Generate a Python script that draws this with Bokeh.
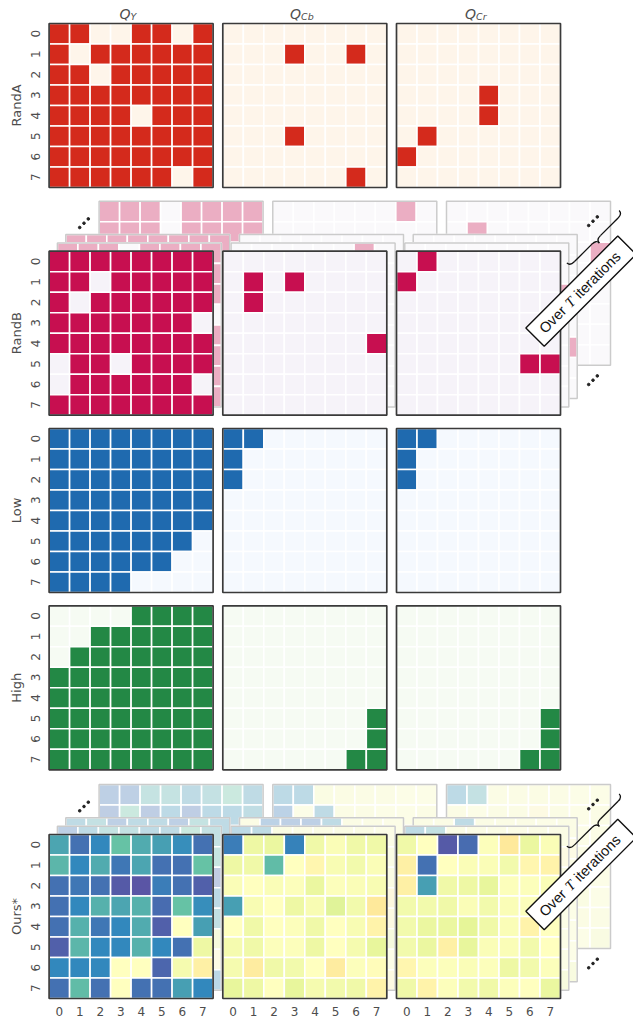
import math
from bokeh.plotting import figure
from bokeh.models import ColumnDataSource, Range1d
from bokeh.core.properties import value
from bokeh.embed import file_html
from bokeh.resources import INLINE

# ---------------- data ----------------
row_names = ["RandA", "RandB", "Low", "High", "Ours*"]
col_main = ["Q", "Q", "Q"]
col_sub = ["Y", "Cb", "Cr"]
tick_labels = ["0", "1", "2", "3", "4", "5", "6", "7"]

randA_Y = ["11001101", "10111111", "11011111", "11111111",
           "11110111", "11111111", "11111111", "11111101"]
randA_Cb = ["00000000", "00010010", "00000000", "00000000",
            "00000000", "00010000", "00000000", "00000010"]
randA_Cr = ["00000000", "00000000", "00000000", "00001000",
            "00001000", "01000000", "10000000", "00000000"]

randB_Y = ["11111111", "11011111", "10111111", "11111110",
           "11111111", "01101111", "01111110", "11111111"]
randB_Cb = ["00000000", "01010000", "01000000", "00000000",
            "00000001", "00000000", "00000000", "00000000"]
randB_Cr = ["01000000", "10000000", "00000000", "00000000",
            "00000000", "00000011", "00000000", "00000000"]

low_Y = ["11111111", "11111111", "11111111", "11111111",
         "11111111", "11111110", "11111100", "11110000"]
low_Cb = ["11000000", "10000000", "10000000", "00000000",
          "00000000", "00000000", "00000000", "00000000"]
low_Cr = ["11000000", "10000000", "10000000", "00000000",
          "00000000", "00000000", "00000000", "00000000"]

high_Y = ["00001111", "00111111", "01111111", "11111111",
          "11111111", "11111111", "11111111", "11111111"]
high_Cb = ["00000000", "00000000", "00000000", "00000000",
           "00000000", "00000001", "00000001", "00000011"]
high_Cr = ["00000000", "00000000", "00000000", "00000000",
           "00000000", "00000001", "00000001", "00000011"]

# Ours*: position on the Spectral scale (0 = purple ... 5 = pale yellow, 6 = light orange)
ours_Y = [[1.5, 0.6, 1.0, 2.0, 1.6, 1.4, 1.1, 0.6],
          [1.8, 1.0, 1.6, 0.7, 1.5, 0.6, 0.6, 2.0],
          [0.6, 0.7, 0.6, 0.2, 0.1, 0.8, 0.6, 0.3],
          [0.6, 1.0, 1.7, 1.5, 1.7, 0.5, 2.0, 1.1],
          [0.6, 1.7, 0.7, 1.0, 1.6, 0.3, 5.0, 1.4],
          [0.3, 1.8, 1.0, 1.0, 1.7, 1.0, 0.6, 4.3],
          [1.0, 1.0, 1.0, 5.0, 5.0, 0.4, 4.6, 5.5],
          [0.6, 1.9, 0.6, 5.0, 0.6, 0.6, 1.4, 1.0]]
ours_Cb = [[0.8, 4.3, 4.2, 0.9, 4.4, 4.8, 4.4, 4.4],
           [4.3, 4.4, 1.9, 5.0, 5.3, 4.7, 4.5, 4.8],
           [4.8, 5.0, 4.8, 4.9, 4.2, 4.9, 4.8, 4.7],
           [1.4, 4.7, 5.0, 4.3, 4.7, 3.9, 4.5, 5.7],
           [5.0, 4.4, 5.0, 4.9, 4.4, 5.0, 4.7, 5.4],
           [4.6, 4.4, 4.9, 4.9, 4.3, 5.0, 4.6, 4.1],
           [4.6, 5.6, 4.4, 4.5, 5.0, 5.6, 4.9, 5.1],
           [4.1, 4.3, 5.0, 4.1, 4.6, 4.5, 4.4, 5.4]]
ours_Cr = [[4.4, 5.0, 0.2, 0.5, 4.9, 5.7, 4.2, 4.8],
           [5.5, 0.6, 5.0, 4.8, 4.8, 4.5, 5.3, 5.4],
           [5.5, 1.4, 4.4, 4.3, 4.1, 4.9, 4.9, 4.8],
           [4.5, 4.5, 4.4, 4.8, 4.5, 4.8, 4.9, 4.9],
           [4.5, 4.2, 4.2, 4.0, 4.4, 4.8, 5.4, 5.0],
           [4.5, 4.2, 5.5, 4.1, 4.8, 4.8, 4.5, 5.0],
           [5.3, 4.9, 4.9, 4.8, 4.9, 4.3, 4.5, 4.9],
           [4.4, 5.4, 4.9, 4.5, 4.4, 4.9, 5.0, 4.2]]

# earlier iterations shown behind RandB (layer 1 = nearest, layer 3 = farthest)
ghostB_Y = [["11101111", "11111111", "11111111", "11111110", "11111111", "11111111", "11111111", "11111111"],
            ["11111111", "11011111", "11111111", "11111111", "11111111", "11111111", "11111111", "11111111"],
            ["11101111", "11101111", "11111111", "11111111", "11111111", "11111111", "11111111", "11111111"]]
ghostB_Cb = [["00000010", "00000000", "00000000", "00000000", "00000000", "00000000", "00000000", "00000000"],
             ["00000000", "00000000", "00000000", "00000000", "00000000", "00000000", "00000000", "00000000"],
             ["00000010", "00000000", "00000000", "00000000", "00000000", "00000000", "00000000", "00000000"]]
ghostB_Cr = [["00000000", "00000000", "00000001", "00000000", "00000000", "00000000", "00000000", "00000000"],
             ["00000000", "00000000", "00000000", "00000000", "00000000", "00000001", "00000000", "00000000"],
             ["00000000", "01000000", "00000001", "00000000", "00000000", "00000000", "00000000", "00000000"]]

# earlier iterations shown behind Ours*
ghostO_Y = [[[0.7, 1.3, 1.7, 1.6, 1.3, 1.3, 2.0, 1.6],
             [1.2, 0.8, 1.5, 1.0, 1.4, 0.7, 0.8, 1.8],
             [0.7, 0.8, 0.6, 0.4, 0.3, 0.9, 0.7, 0.5],
             [0.7, 1.1, 1.6, 1.4, 1.6, 0.6, 1.8, 1.2],
             [0.7, 1.6, 0.8, 1.1, 1.5, 0.4, 4.6, 1.5],
             [0.4, 1.7, 1.1, 1.1, 1.6, 1.1, 0.7, 4.2],
             [1.1, 1.1, 1.1, 4.8, 4.8, 0.5, 4.5, 5.2],
             [0.7, 1.8, 0.7, 4.8, 0.7, 0.7, 1.5, 1.1]],
            [[1.3, 1.6, 0.7, 1.3, 1.3, 0.7, 1.7, 1.3],
             [1.6, 1.1, 1.4, 0.8, 1.4, 0.7, 0.7, 1.9],
             [0.7, 0.8, 0.7, 0.3, 0.3, 0.9, 0.7, 0.4],
             [0.7, 1.1, 1.6, 1.4, 1.6, 0.6, 1.9, 1.2],
             [0.7, 1.6, 0.8, 1.1, 1.5, 0.4, 4.7, 1.5],
             [0.4, 1.7, 1.1, 1.1, 1.6, 1.1, 0.7, 4.2],
             [1.1, 1.1, 1.1, 4.9, 4.9, 0.5, 4.5, 5.3],
             [0.7, 1.8, 0.7, 4.9, 0.7, 0.7, 1.5, 1.1]],
            [[0.7, 0.7, 1.7, 1.7, 1.3, 1.6, 2.0, 1.3],
             [0.6, 2.0, 0.6, 1.2, 0.6, 1.2, 1.2, 1.4],
             [0.8, 0.9, 0.7, 0.4, 0.4, 1.0, 0.8, 0.6],
             [0.8, 1.2, 1.5, 1.3, 1.5, 0.7, 1.7, 1.3],
             [0.8, 1.5, 0.9, 1.2, 1.4, 0.5, 4.4, 1.6],
             [0.5, 1.6, 1.2, 1.2, 1.5, 1.2, 0.8, 4.0],
             [1.2, 1.2, 1.2, 4.6, 4.6, 0.6, 4.3, 5.0],
             [0.8, 1.7, 0.8, 4.6, 0.8, 0.8, 1.6, 1.2]]]
ghostO_Cb = [[[1.2, 1.3, 4.6, 4.8, 4.8, 4.8, 4.8, 4.9],
              [4.4, 4.5, 2.2, 4.9, 5.2, 4.7, 4.6, 4.8],
              [4.8, 4.9, 4.8, 4.9, 4.3, 4.9, 4.8, 4.7],
              [1.6, 4.7, 4.9, 4.4, 4.7, 4.1, 4.6, 5.5],
              [4.9, 4.5, 4.9, 4.9, 4.5, 4.9, 4.7, 5.3],
              [4.6, 4.5, 4.9, 4.9, 4.4, 4.9, 4.6, 4.2],
              [4.6, 5.4, 4.5, 4.6, 4.9, 5.4, 4.9, 5.0],
              [4.2, 4.4, 4.9, 4.2, 4.6, 4.6, 4.5, 5.3]],
             [[4.8, 0.8, 0.7, 0.7, 1.3, 4.8, 4.8, 4.9],
              [4.4, 4.5, 2.4, 4.9, 5.1, 4.7, 4.6, 4.8],
              [4.8, 4.9, 4.8, 4.9, 4.4, 4.9, 4.8, 4.8],
              [1.8, 4.7, 4.9, 4.5, 4.7, 4.2, 4.6, 5.4],
              [4.9, 4.5, 4.9, 4.9, 4.5, 4.9, 4.7, 5.2],
              [4.7, 4.5, 4.9, 4.9, 4.5, 4.9, 4.7, 4.3],
              [4.7, 5.3, 4.5, 4.6, 4.9, 5.3, 4.9, 5.0],
              [4.3, 4.5, 4.9, 4.3, 4.7, 4.6, 4.5, 5.2]],
             [[1.2, 1.2, 4.6, 4.7, 4.8, 4.8, 4.9, 4.9],
              [0.8, 4.9, 1.3, 4.8, 4.8, 4.9, 4.9, 4.8],
              [4.8, 4.9, 4.8, 4.9, 4.5, 4.9, 4.8, 4.8],
              [2.0, 4.7, 4.9, 4.6, 4.7, 4.3, 4.7, 5.3],
              [4.9, 4.6, 4.9, 4.9, 4.6, 4.9, 4.8, 5.1],
              [4.7, 4.6, 4.9, 4.9, 4.6, 4.9, 4.7, 4.4],
              [4.7, 5.2, 4.6, 4.7, 4.9, 5.2, 4.9, 5.0],
              [4.4, 4.6, 4.9, 4.4, 4.7, 4.7, 4.6, 5.1]]]
ghostO_Cr = [[[1.3, 1.6, 4.8, 4.8, 4.8, 4.9, 4.8, 4.8],
              [5.3, 1.0, 4.9, 4.8, 4.8, 4.6, 5.2, 5.3],
              [5.3, 1.8, 4.5, 4.4, 4.3, 4.9, 4.9, 4.8],
              [4.6, 4.6, 4.5, 4.8, 4.6, 4.8, 4.9, 4.9],
              [4.6, 4.3, 4.3, 4.2, 4.5, 4.8, 5.3, 4.9],
              [4.6, 4.3, 5.3, 4.2, 4.8, 4.8, 4.6, 4.9],
              [5.2, 4.9, 4.9, 4.8, 4.9, 4.4, 4.6, 4.9],
              [4.5, 5.3, 4.9, 4.6, 4.5, 4.9, 4.9, 4.3]],
             [[4.8, 4.8, 1.3, 4.8, 4.8, 4.8, 4.9, 4.8],
              [5.2, 1.2, 4.9, 4.8, 4.8, 4.6, 5.1, 5.2],
              [5.2, 2.0, 4.5, 4.5, 4.4, 4.9, 4.9, 4.8],
              [4.6, 4.6, 4.5, 4.8, 4.6, 4.8, 4.9, 4.9],
              [4.6, 4.4, 4.4, 4.3, 4.5, 4.8, 5.2, 4.9],
              [4.6, 4.4, 5.2, 4.3, 4.8, 4.8, 4.6, 4.9],
              [5.1, 4.9, 4.9, 4.8, 4.9, 4.5, 4.6, 4.9],
              [4.6, 5.2, 4.9, 4.6, 4.6, 4.9, 4.9, 4.4]],
             [[1.2, 1.6, 4.8, 4.8, 4.7, 4.8, 4.9, 4.9],
              [4.8, 4.9, 4.8, 4.8, 5.3, 4.8, 4.9, 4.8],
              [5.1, 2.2, 4.6, 4.6, 4.5, 4.9, 4.9, 4.8],
              [4.7, 4.7, 4.6, 4.8, 4.7, 4.8, 4.8, 4.9],
              [4.7, 4.5, 4.5, 4.4, 4.6, 4.8, 4.3, 4.9],
              [4.7, 4.5, 5.1, 4.4, 4.8, 4.8, 4.6, 4.9],
              [5.0, 4.9, 4.9, 4.8, 4.9, 4.5, 4.7, 4.8],
              [4.6, 5.1, 4.9, 4.7, 4.6, 4.9, 4.9, 4.5]]]

# ---------------- style / layout ----------------
on_colors = ["#d42a1c", "#c70f50", "#1f6aaf", "#238845"]
off_colors = ["#fef5ea", "#f6f3f9", "#f5f9fe", "#f6fbf3"]
SPECTRAL = ['#5e4fa2', '#3288bd', '#66c2a5', '#abdda4', '#e6f598', '#ffffbf',
            '#fee08b', '#fdae61', '#f46d43', '#d53e4f', '#9e0142']

W, H = 633, 1023
CELL = 20.5
COL_X0 = [48.6, 222.3, 396.0]             # page px of panel left edges
ROW_Y0 = [23.0, 250.7, 428.0, 605.3, 834.0]  # page px of panel top edges
GHOST_OFF = [8.3, 16.7, 50.0]             # offsets of earlier-iteration layers
GHOST_ALPHA = 0.33


def px(x):
    return x


def py(y):
    return H - y


def hex2rgb(h):
    return tuple(int(h[i:i + 2], 16) for i in (1, 3, 5))


def spectral(v):
    i = min(int(math.floor(v)), len(SPECTRAL) - 2)
    f = v - i
    a, b = hex2rgb(SPECTRAL[i]), hex2rgb(SPECTRAL[i + 1])
    c = [round(a[k] + (b[k] - a[k]) * f) for k in range(3)]
    return "#%02x%02x%02x" % tuple(c)


def binary_colors(rows, ri):
    return [[on_colors[ri] if ch == "1" else off_colors[ri] for ch in r] for r in rows]


def value_colors(mat):
    return [[spectral(v) for v in r] for r in mat]


p = figure(width=W, height=H, x_range=Range1d(0, W), y_range=Range1d(0, H),
           x_axis_type=None, y_axis_type=None, toolbar_location=None,
           output_backend="svg", min_border=0)
p.outline_line_color = None
p.background_fill_color = "white"
p.border_fill_color = "white"


def draw_panel(colors, R, C, off=0.0, ghost=False):
    x0 = COL_X0[C] + off
    y0 = ROW_Y0[R] - off
    xs, ys, cs = [], [], []
    for r in range(8):
        for c in range(8):
            xs.append(px(x0 + (c + 0.5) * CELL))
            ys.append(py(y0 + (r + 0.5) * CELL))
            cs.append(colors[r][c])
    cx, cy = px(x0 + 4 * CELL), py(y0 + 4 * CELL)
    if ghost:
        p.rect([cx], [cy], width=8 * CELL, height=8 * CELL, fill_color="#fdfdfd",
               line_color=None)
    src = ColumnDataSource(dict(x=xs, y=ys, color=cs))
    p.rect("x", "y", width=CELL, height=CELL, fill_color="color",
           fill_alpha=GHOST_ALPHA if ghost else 1.0,
           line_color="white", line_width=1.6, source=src)
    p.rect([cx], [cy], width=8 * CELL, height=8 * CELL, fill_color=None,
           line_color="#cbcbcb" if ghost else "#3a3a3a",
           line_width=1.5 if ghost else 1.7)


main_sets = [
    [binary_colors(randA_Y, 0), binary_colors(randA_Cb, 0), binary_colors(randA_Cr, 0)],
    [binary_colors(randB_Y, 1), binary_colors(randB_Cb, 1), binary_colors(randB_Cr, 1)],
    [binary_colors(low_Y, 2), binary_colors(low_Cb, 2), binary_colors(low_Cr, 2)],
    [binary_colors(high_Y, 3), binary_colors(high_Cb, 3), binary_colors(high_Cr, 3)],
    [value_colors(ours_Y), value_colors(ours_Cb), value_colors(ours_Cr)],
]

ghost_sets = {
    1: [[binary_colors(ghostB_Y[k], 1), binary_colors(ghostB_Cb[k], 1),
         binary_colors(ghostB_Cr[k], 1)] for k in range(3)],
    4: [[value_colors(ghostO_Y[k]), value_colors(ghostO_Cb[k]),
         value_colors(ghostO_Cr[k])] for k in range(3)],
}

# ghost layers (farthest first)
for R, layers in ghost_sets.items():
    for k in (2, 1, 0):
        for C in range(3):
            draw_panel(layers[k][C], R, C, off=GHOST_OFF[k], ghost=True)

# main panels
for R in range(5):
    for C in range(3):
        draw_panel(main_sets[R][C], R, C)

TXT = "#4d4d4d"
# column titles Q_Y, Q_Cb, Q_Cr
sub_w = [6.0, 12.5, 10.0]
for C in range(3):
    cx = COL_X0[C] + 4 * CELL - 3
    q_w = 11.0
    tot = q_w + sub_w[C]
    left = cx - tot / 2
    p.text([px(left)], [py(13.5)], text=[col_main[C]], text_font=value("DejaVu Sans"),
           text_font_style="italic", text_font_size="14px", text_color=TXT,
           text_align="left", text_baseline="alphabetic")
    p.text([px(left + q_w)], [py(15.5)], text=[col_sub[C]], text_font=value("DejaVu Sans"),
           text_font_style="italic", text_font_size="9.5px", text_color=TXT,
           text_align="left", text_baseline="alphabetic")

# row labels and y tick labels
for R in range(5):
    p.text([px(16)], [py(ROW_Y0[R] + 4 * CELL)], text=[row_names[R]],
           text_font=value("DejaVu Sans"), text_font_size="13px", text_color=TXT,
           angle=math.pi / 2, text_align="center", text_baseline="middle")
    ys = [py(ROW_Y0[R] + (r + 0.5) * CELL) for r in range(8)]
    p.text([px(34.5)] * 8, ys, text=tick_labels, text_font=value("DejaVu Sans"),
           text_font_size="12px", text_color=TXT, angle=math.pi / 2,
           text_align="center", text_baseline="middle")

# x tick labels
for C in range(3):
    xs = [px(COL_X0[C] + (c + 0.5) * CELL) for c in range(8)]
    p.text(xs, [py(1011)] * 8, text=tick_labels, text_font=value("DejaVu Sans"),
           text_font_size="12px", text_color=TXT, text_align="center",
           text_baseline="middle")

# decorations: dots, braces and "Over T iterations" boxes
U = (math.sqrt(0.5), math.sqrt(0.5))     # along brace / box (data coords, y up)
N = (math.sqrt(0.5), -math.sqrt(0.5))    # towards the box


def dots(cx_page, cy_page):
    xs = [px(cx_page) + k * 4.3 for k in (-1, 0, 1)]
    ys = [py(cy_page) + k * 4.3 for k in (-1, 0, 1)]
    p.scatter(xs, ys, size=2.6, color="#222222")


def brace(bx_page, by_page, L=37.0, d=9.0, a=6.0):
    bx, by = px(bx_page), py(by_page)

    def P(s, t):
        return (bx + s * U[0] + t * N[0], by + s * U[1] + t * N[1])
    quads = [((-L, 0), (-L + a, d / 2), (-L, d / 2)),
             ((-a, d / 2), (0, d), (0, d / 2)),
             ((0, d), (a, d / 2), (0, d / 2)),
             ((L - a, d / 2), (L, 0), (L, d / 2))]
    for s0, s1, sc in quads:
        (x0, y0), (x1, y1), (xc, yc) = P(*s0), P(*s1), P(*sc)
        p.quadratic(x0=[x0], y0=[y0], x1=[x1], y1=[y1], cx=[xc], cy=[yc],
                    line_color="#111111", line_width=1.3)
    for s0, s1 in (((-L + a, d / 2), (-a, d / 2)), ((a, d / 2), (L - a, d / 2))):
        (x0, y0), (x1, y1) = P(*s0), P(*s1)
        p.segment([x0], [y0], [x1], [y1], line_color="#111111", line_width=1.3)


def over_box(cx_page, cy_page):
    cx, cy = px(cx_page), py(cy_page)
    p.rect([cx], [cy], width=130, height=26, angle=math.pi / 4,
           fill_color="white", line_color="#111111", line_width=1.4)
    fs = 14.5
    w_over = 2.445 * fs
    w_t = 0.62 * fs
    w_sp = 0.28 * fs
    w_it = 4.06 * fs
    total = w_over + w_sp + w_t + w_sp + w_it
    s = -total / 2
    pieces = [("Over", "Liberation Sans", "normal", s),
              ("T", "Liberation Serif", "italic", s + w_over + w_sp * 0.2),
              ("iterations", "Liberation Sans", "normal", s + w_over + w_sp * 0.2 + w_t + w_sp)]
    for txt, font, style, off in pieces:
        p.text([cx + off * U[0]], [cy + off * U[1]], text=[txt], text_font=value(font),
               text_font_style=style, text_font_size="14.5px", text_color="#111111",
               angle=math.pi / 4, text_align="left", text_baseline="middle")


for R in (1, 4):
    top = ROW_Y0[R]
    dots(83.5, top - 28)
    dots(592.5, top - 30)
    dots(592.5, top + 129)
    brace(592.5, top - 14.5)
    over_box(580.5, top + 40)

open("out.html", "w").write(file_html(p, INLINE))
